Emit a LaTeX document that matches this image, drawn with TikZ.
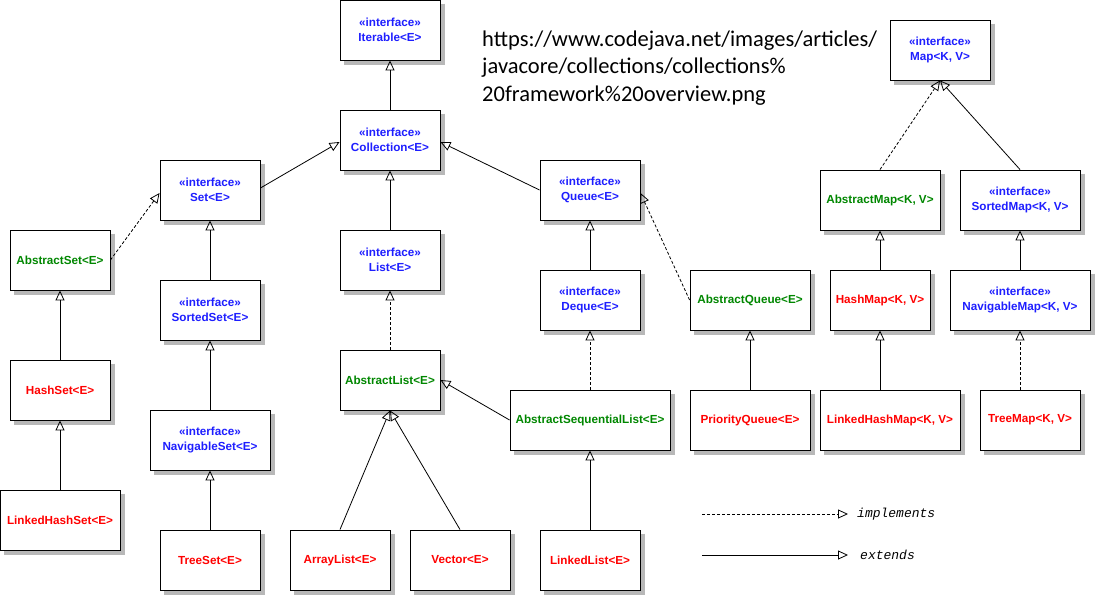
\documentclass[tikz,border=0pt]{standalone}
\usepackage{fontspec}
\setmainfont{Liberation Sans}
\newfontfamily\urlfont{Carlito}
\newfontfamily\legfont{Liberation Mono}
\usetikzlibrary{arrows.meta}
\definecolor{ifblue}{RGB}{30,30,255}
\definecolor{absgreen}{RGB}{0,135,0}
\definecolor{clsred}{RGB}{255,0,0}
\colorlet{boxshade}{black!28}
\begin{document}
\begin{tikzpicture}[x=1pt,y=-1pt,
  box/.style={draw, fill=white, line width=0.9pt, minimum height=60pt, minimum width=100pt,
    inner sep=0pt, align=center, font=\fontsize{11.7}{15}\selectfont\bfseries},
  iface/.style={box, text=ifblue},
  abs/.style={box, text=absgreen},
  cls/.style={box, text=clsred},
  boxshadow/.style={draw=boxshade, line width=4pt, line cap=butt, line join=miter},
  ext/.style={line width=0.8pt, -{Triangle[open, length=10pt, width=9pt, line width=0.8pt]}},
  impl/.style={ext, dash pattern=on 3pt off 2pt},
  legtext/.style={anchor=west, inner sep=0pt, font=\legfont\itshape\fontsize{13}{15}\selectfont},
  urltext/.style={anchor=base west, inner sep=0pt, font=\urlfont\fontsize{22.5}{27.5}\selectfont},
]
\useasboundingbox (0,0) rectangle (1095,595);

% interfaces / classes of Collection
\node[iface] (iter) at (390,30) {«interface»\\Iterable<E>};
\node[iface] (coll) at (390,140) {«interface»\\Collection<E>};
\node[iface] (set) at (210,190) {«interface»\\Set<E>};
\node[abs] (aset) at (60,260) {AbstractSet<E>};
\node[iface] (sset) at (210,310) {«interface»\\SortedSet<E>};
\node[cls] (hset) at (60,390) {HashSet<E>};
\node[iface, minimum width=120pt] (nset) at (210,440) {«interface»\\NavigableSet<E>};
\node[cls, minimum width=120pt] (lhset) at (60,520) {LinkedHashSet<E>};
\node[cls] (tset) at (210,560) {TreeSet<E>};
\node[iface] (list) at (390,260) {«interface»\\List<E>};
\node[abs] (alist) at (390,380) {AbstractList<E>};
\node[cls] (arr) at (340,560) {ArrayList<E>};
\node[cls] (vec) at (460,560) {Vector<E>};
\node[iface] (queue) at (590,190) {«interface»\\Queue<E>};
\node[iface] (deque) at (590,300) {«interface»\\Deque<E>};
\node[abs, minimum width=160pt] (asl) at (590,420) {AbstractSequentialList<E>};
\node[cls] (llist) at (590,560) {LinkedList<E>};
\node[abs, minimum width=120pt] (aq) at (750,300) {AbstractQueue<E>};
\node[cls, minimum width=120pt] (pq) at (750,420) {PriorityQueue<E>};

% Map hierarchy
\node[iface] (map) at (940,50) {«interface»\\Map<K, V>};
\node[abs, minimum width=120pt] (amap) at (880,200) {AbstractMap<K, V>};
\node[iface, minimum width=120pt] (smap) at (1020,200) {«interface»\\SortedMap<K, V>};
\node[cls] (hmap) at (880,300) {HashMap<K, V>};
\node[iface, minimum width=140pt] (nmap) at (1020,300) {«interface»\\NavigableMap<K, V>};
\node[cls, minimum width=140pt] (lhmap) at (890,420) {LinkedHashMap<K, V>};
\node[cls] (tmap) at (1030,420) {TreeMap<K, V>};

% shadows: right and bottom strips of each box
\foreach \n in {iter,coll,set,aset,sset,hset,nset,lhset,tset,list,alist,arr,vec,queue,deque,asl,llist,aq,pq,map,amap,smap,hmap,nmap,lhmap,tmap}{
  \draw[boxshadow] ([xshift=2.5pt,yshift=-4pt]\n.north east) -- ([xshift=2.5pt,yshift=-2.5pt]\n.south east)
                   -- ([xshift=4pt,yshift=-2.5pt]\n.south west);
}

% URL text
\node[urltext] (url1) at (482,46) {https://www.codejava.net/images/articles/};
\node[urltext] (url2) at (482,73.5) {javacore/collections/collections\%};
\node[urltext] (url3) at (482,101) {20framework\%20overview.png};

% connectors
\draw[ext] (coll.north) -- (iter.south);
\draw[ext] ([yshift=2pt]set.east) -- ([yshift=-2pt]coll.west);
\draw[ext] (queue.west) -- ([yshift=-2pt]coll.east);
\draw[ext] (list.north) -- (coll.south);
\draw[impl] (aset.east) -- ([yshift=-3pt]set.west);
\draw[ext] (sset.north) -- (set.south);
\draw[ext] (hset.north) -- (aset.south);
\draw[ext] (nset.north) -- (sset.south);
\draw[ext] (lhset.north) -- (hset.south);
\draw[ext] (tset.north) -- (nset.south);
\draw[impl] (alist.north) -- (list.south);
\draw[ext] (asl.west) -- (alist.east);
\draw[ext] (arr.north) -- (alist.south);
\draw[ext] (vec.north) -- (alist.south);
\draw[ext] (deque.north) -- (queue.south);
\draw[impl] (asl.north) -- (deque.south);
\draw[ext] (llist.north) -- (asl.south);
\draw[impl] (aq.west) -- ([yshift=-3pt]queue.east);
\draw[ext] (pq.north) -- (aq.south);
\draw[impl] (amap.north) -- (map.south);
\draw[ext] (smap.north) -- (map.south);
\draw[ext] (hmap.north) -- (amap.south);
\draw[ext] (nmap.north) -- (smap.south);
\draw[ext] ([xshift=-10pt]lhmap.north) -- (hmap.south);
\draw[impl] ([xshift=-10pt]tmap.north) -- (nmap.south);

% legend
\coordinate (i1) at (702,514);
\coordinate (i2) at (848,514);
\coordinate (e1) at (702,555);
\coordinate (e2) at (848,555);
\draw[impl] (i1) -- (i2);
\draw[ext] (e1) -- (e2);
\node[legtext] (impltext) at (857,514) {implements};
\node[legtext] (exttext) at (860,555) {extends};
\end{tikzpicture}
\end{document}
